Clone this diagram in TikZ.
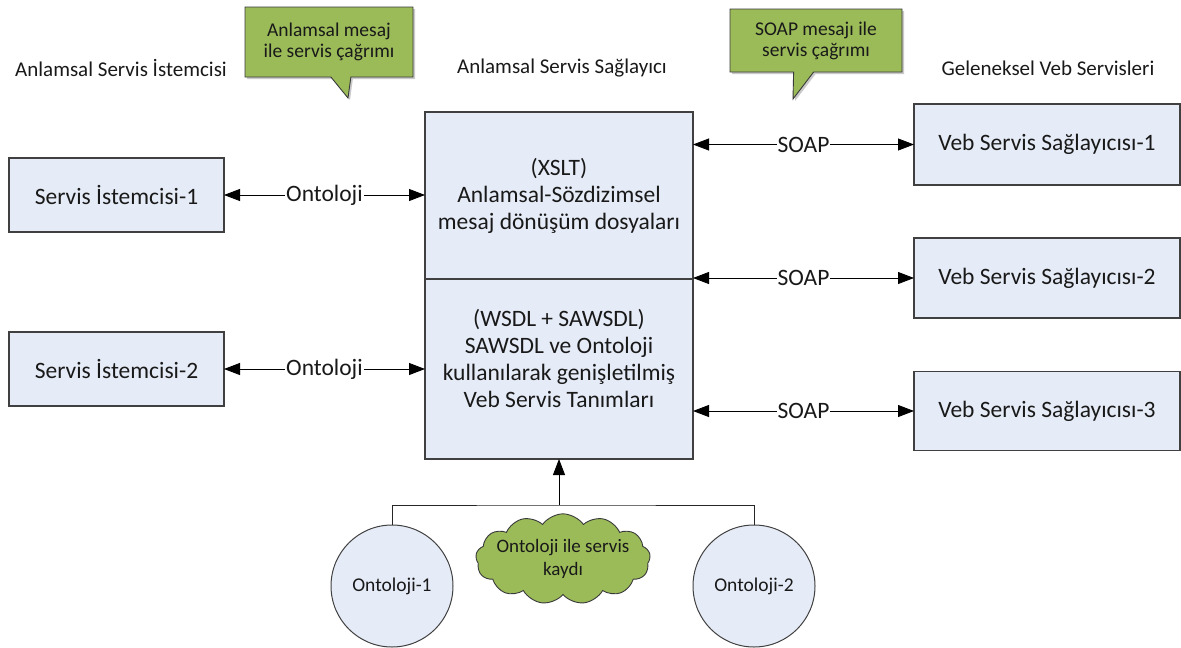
\documentclass[tikz,border=0pt]{standalone}
\usepackage{fontspec}
\setmainfont{Carlito}
\usetikzlibrary{arrows.meta, positioning, calc, shapes.callouts, shapes.symbols, shadows}
\definecolor{svcfill}{HTML}{E6ECF7}
\definecolor{svcline}{HTML}{404040}
\definecolor{notefill}{HTML}{9BBB59}
\definecolor{noteline}{HTML}{3A3A3A}
\tikzset{
  svcbox/.style   = {draw=svcline, fill=svcfill, line width=1.1pt, align=center,
                     inner sep=0pt, outer sep=0pt, text=black!90,
                     font=\fontsize{23.5}{27}\selectfont},
  ontcirc/.style  = {circle, draw=svcline, fill=svcfill, line width=1pt,
                     minimum size=122pt, inner sep=0pt, text=black!90,
                     font=\fontsize{19.5}{22}\selectfont},
  grphead/.style  = {font=\fontsize{21}{24}\selectfont, text=black!90},
  notebox/.style  = {rectangle callout, draw=noteline, fill=notefill,
                     line width=0.9pt, align=center, inner sep=0pt,
                     callout pointer width=20pt, text=black!90,
                     drop shadow={shadow xshift=2pt, shadow yshift=-2pt,
                                  fill=black!60, opacity=0.35},
                     font=\fontsize{19.5}{21}\selectfont},
  notecloud/.style= {cloud, cloud puffs=13, cloud puff arc=110, aspect=2.4,
                     draw=noteline, fill=notefill, line width=0.9pt,
                     align=center, inner sep=-6pt, text=black!90,
                     minimum width=167pt, minimum height=72pt,
                     font=\fontsize{19}{23}\selectfont},
  biarr/.style    = {draw=black, line width=0.8pt,
                     {Triangle[length=16pt, width=12pt]}-{Triangle[length=16pt, width=12pt]}},
  uparr/.style    = {draw=black, line width=0.8pt, -{Triangle[length=16pt, width=12pt]}},
  joinln/.style   = {draw=black!85, line width=0.8pt},
  edgelbl/.style  = {fill=white, inner sep=1pt, text=black!90,
                     font=\fontsize{23.5}{26}\selectfont},
}

\begin{document}
\begin{tikzpicture}[x=1pt, y=-1pt]
  \useasboundingbox (0,0) rectangle (1181,648);

  % group headings
  \node[grphead] (hcli) at (121,68) {Anlamsal Servis İstemcisi};
  \node[grphead] (hsag) at (562,68) {Anlamsal Servis Sağlayıcı};
  \node[grphead] (hweb) at (1048,68) {Geleneksel Veb Servisleri};

  % semantic service provider
  \node[svcbox, minimum width=268pt, minimum height=167pt] (ssx) at (559,195.5)
       {(XSLT)\\Anlamsal-Sözdizimsel\\mesaj dönüşüm dosyaları};
  \node[svcbox, below=0pt of ssx, minimum width=268pt, minimum height=180pt] (ssb)
       {(WSDL + SAWSDL)\\SAWSDL ve Ontoloji\\kullanılarak genişletilmiş\\Veb Servis Tanımları\\[-5pt]\mbox{}};

  % clients
  \node[svcbox, minimum width=215pt, minimum height=74pt] (si1) at (116.5,195) {Servis İstemcisi-1};
  \node[svcbox, minimum width=215pt, minimum height=74pt] (si2) at (116.5,369) {Servis İstemcisi-2};

  % classic web services
  \node[svcbox, minimum width=266pt, minimum height=81pt] (vs1) at (1047,144.5) {Veb Servis Sağlayıcısı-1};
  \node[svcbox, minimum width=266pt, minimum height=80pt] (vs2) at (1047,278) {Veb Servis Sağlayıcısı-2};
  \node[svcbox, minimum width=266pt, minimum height=79pt] (vs3) at (1047,411) {Veb Servis Sağlayıcısı-3};

  % links
  \draw[biarr] (si1.east) -- node[edgelbl] {Ontoloji} (si1.east -| ssx.west);
  \draw[biarr] (si2.east) -- node[edgelbl] {Ontoloji} (si2.east -| ssb.west);
  \draw[biarr] (vs1.west -| ssx.east) -- node[edgelbl] {SOAP} (vs1.west);
  \draw[biarr] (vs2.west -| ssx.east) -- node[edgelbl] {SOAP} (vs2.west);
  \draw[biarr] (vs3.west -| ssb.east) -- node[edgelbl] {SOAP} (vs3.west);

  % ontologies
  \node[ontcirc] (ont1) at (392,586) {Ontoloji-1};
  \node[ontcirc] (ont2) at (754,586) {Ontoloji-2};
  \coordinate (join) at ($(ssb.south)+(0,46)$);
  \draw[joinln] (ont1.north) |- (join) -| (ont2.north);
  \draw[uparr] (join) -- (ssb.south);

  % notes
  \node[notebox, minimum width=168pt, minimum height=70pt,
        callout absolute pointer={(348,98)}] (nsem) at (329,42)
       {Anlamsal mesaj\\ile servis çağrımı};
  \node[notebox, minimum width=172pt, minimum height=63pt,
        callout absolute pointer={(793,99)}] (nsoap) at (816,40.5)
       {SOAP mesajı ile\\servis çağrımı};
  \node[notecloud] (nreg) at (563,559) {Ontoloji ile servis\\kaydı};
\end{tikzpicture}
\end{document}
